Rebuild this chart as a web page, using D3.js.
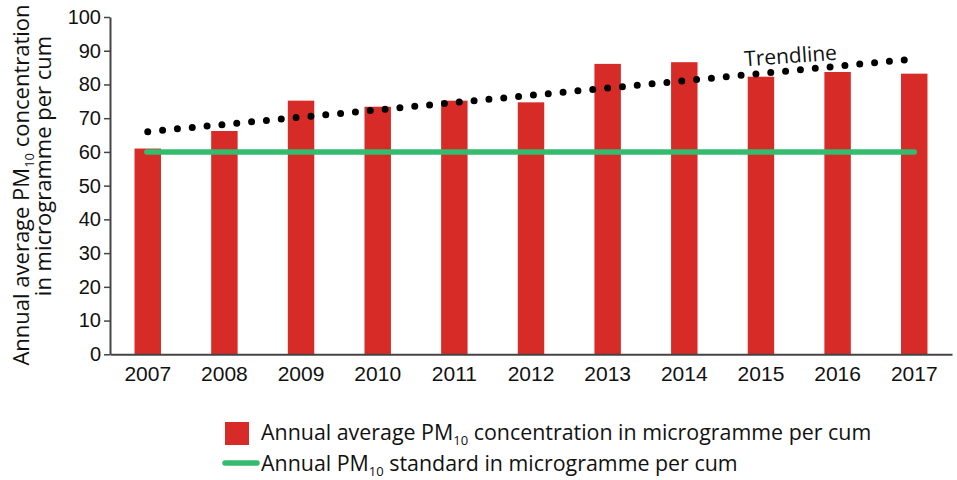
<!DOCTYPE html>
<html>
<head>
<meta charset="utf-8">
<script src="https://cdn.jsdelivr.net/npm/d3@7"></script>
<style>
  body { margin: 0; background: #fff; }
  svg { font-family: "Open Sans", "Noto Sans", sans-serif; }
</style>
</head>
<body>
<div id="chart"></div>
<script>
const years = ["2007", "2008", "2009", "2010", "2011", "2012", "2013", "2014", "2015", "2016", "2017"];
const pm10 = [61, 66.2, 75.2, 73.4, 75.2, 74.7, 86.1, 86.6, 82.3, 83.7, 83.2];
const standard = [60, 60];
const trendEnds = [66, 87.4];
const yTicks = [0, 10, 20, 30, 40, 50, 60, 70, 80, 90, 100];

const
    width = 957,
    height = 480,
    margin = { top: 17, right: 5, bottom: 126, left: 110 },
    svg = d3.select("#chart").append("svg").attr("width", width).attr("height", height);

var colors = {
    bar: "#d62b27",
    standard: "#35bb6e",
    trend: "#000000",
    axis: "#444444"
};

var x = d3.scaleBand()
    .domain(years)
    .range([110, 952])
    .paddingInner(0.655)
    .paddingOuter(0.32);

var y = d3.scaleLinear()
    .domain([0, 100])
    .range([height - margin.bottom + 0.3, margin.top]);

// y axis
svg.append("g")
    .attr("transform", `translate(${margin.left},0)`)
    .call(d3.axisLeft(y).tickValues(yTicks).tickSize(6).tickSizeOuter(0).tickPadding(3))
    .call(g => g.select(".domain").attr("stroke", colors.axis).attr("stroke-width", 2))
    .call(g => g.selectAll(".tick line").attr("stroke", colors.axis).attr("stroke-width", 1.5))
    .call(g => g.selectAll(".tick text")
        .attr("fill", "#111")
        .style("font-size", "20px"));

// bars
svg.selectAll(".bar")
    .data(years.map((d, i) => ({ year: d, value: pm10[i] })))
    .enter().append("rect")
    .attr("class", "bar")
    .attr("x", d => x(d.year))
    .attr("y", d => y(d.value))
    .attr("width", x.bandwidth())
    .attr("height", d => y(0) - y(d.value))
    .attr("fill", colors.bar);

// x axis
svg.append("g")
    .attr("transform", `translate(0,${y(0)})`)
    .call(d3.axisBottom(x).tickSize(0).tickSizeOuter(0).tickPadding(12))
    .call(g => g.select(".domain").attr("stroke", colors.axis).attr("stroke-width", 2))
    .call(g => g.selectAll(".tick text")
        .attr("fill", "#111")
        .style("font-size", "21px"));

// standard line
var cx = d => x(d) + x.bandwidth() / 2;
svg.append("line")
    .attr("x1", cx(years[0]) - 1)
    .attr("x2", cx(years[years.length - 1]))
    .attr("y1", y(standard[0]))
    .attr("y2", y(standard[1]))
    .attr("stroke", colors.standard)
    .attr("stroke-width", 5.5)
    .attr("stroke-linecap", "round");

// trendline
svg.append("line")
    .attr("x1", cx(years[0]))
    .attr("x2", cx(years[years.length - 1]) - 6)
    .attr("y1", y(trendEnds[0]))
    .attr("y2", y(trendEnds[1]))
    .attr("stroke", colors.trend)
    .attr("stroke-width", 7)
    .attr("stroke-linecap", "round")
    .attr("stroke-dasharray", "0 14.9");

svg.append("text")
    .attr("transform", "translate(791,63) rotate(-4)")
    .attr("text-anchor", "middle")
    .attr("fill", "#111")
    .style("font-size", "21px")
    .text("Trendline");

// y title
var yTitle = svg.append("text")
    .attr("transform", "rotate(-90)")
    .attr("text-anchor", "middle")
    .attr("fill", "#111")
    .style("font-size", "22px");

var t1 = yTitle.append("tspan").attr("x", -185).attr("y", 29);
t1.append("tspan").text("Annual average PM");
t1.append("tspan").attr("dy", 5).style("font-size", "13px").text("10");
t1.append("tspan").attr("dy", -5).text(" concentration");
yTitle.append("tspan").attr("x", -166).attr("y", 51).text("in microgramme per cum");

// legend
var legend = svg.append("g").style("font-size", "21.4px").attr("fill", "#111");

legend.append("rect")
    .attr("x", 225).attr("y", 422)
    .attr("width", 24).attr("height", 23)
    .attr("fill", colors.bar);

var l1 = legend.append("text").attr("x", 261).attr("y", 440);
l1.append("tspan").text("Annual average PM");
l1.append("tspan").attr("dy", 5).style("font-size", "13px").text("10");
l1.append("tspan").attr("dy", -5).text(" concentration in microgramme per cum");

legend.append("line")
    .attr("x1", 225).attr("x2", 257)
    .attr("y1", 463).attr("y2", 463)
    .attr("stroke", colors.standard)
    .attr("stroke-width", 5.5)
    .attr("stroke-linecap", "round");

var l2 = legend.append("text").attr("x", 261).attr("y", 471);
l2.append("tspan").text("Annual PM");
l2.append("tspan").attr("dy", 5).style("font-size", "13px").text("10");
l2.append("tspan").attr("dy", -5).text(" standard in microgramme per cum");
</script>
</body>
</html>
